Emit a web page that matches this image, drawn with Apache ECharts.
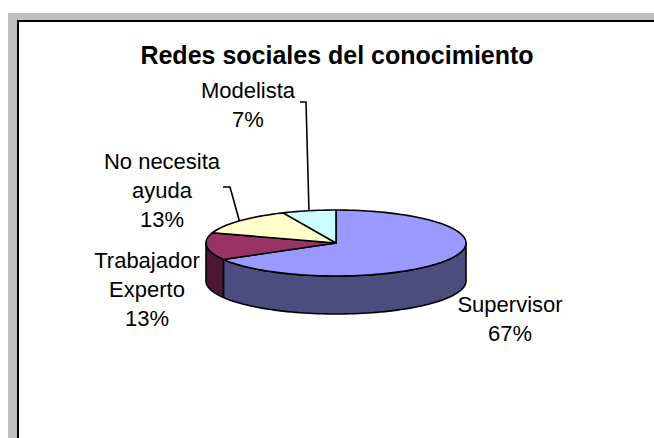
<!DOCTYPE html>
<html><head><meta charset="utf-8">
<script src="https://cdn.jsdelivr.net/npm/echarts@6/dist/echarts.min.js"></script>
<style>html,body{margin:0;padding:0;background:#fff;overflow:hidden}#c{width:654px;height:438px}</style>
</head><body><div id="c"></div>
<script>
// ---- data ----
const chartTitle = 'Redes sociales del conocimiento';
const categories = ['Supervisor', 'Trabajador\nExperto', 'No necesita\nayuda', 'Modelista'];
const counts = [10, 2, 2, 1];

// ---- styles / layout ----
const topColors = ['#9999FF', '#993366', '#FFFFCC', '#CCFFFF'];
const sideColors = ['#4C4C7F', '#4C1933', '#808066', '#668080'];
const PIE = { cx: 336, cy: 243, rx: 130, ry: 33, depth: 38 };
// label block centres, and optional leader-line start/elbow offsets relative to the centre
const LABEL_LAYOUT = [
  { x: 510, y: 319, line: null },
  { x: 147, y: 289, line: null },
  { x: 162, y: 190, line: [[61, -3], [68, -3]] },
  { x: 248, y: 105, line: [[52, -3], [58, -3]] }
];
const FONT = "'Liberation Sans', Arial, sans-serif";

const total = counts.reduce((a, b) => a + b, 0);
const starts = [];
(function () { let acc = 0; counts.forEach(v => { starts.push(acc); acc += v; }); })();

function pt(theta, dy) {
  return [PIE.cx + PIE.rx * Math.sin(theta), PIE.cy - PIE.ry * Math.cos(theta) + (dy || 0)];
}
function arc(a1, a2, dy) {
  const n = Math.max(2, Math.ceil((a2 - a1) / (Math.PI / 90)));
  const out = [];
  for (let k = 0; k <= n; k++) out.push(pt(a1 + (a2 - a1) * k / n, dy));
  return out;
}

function renderItem(params, api) {
  const i = params.dataIndex;
  const v = api.value(1);
  const a1 = starts[i] / total * Math.PI * 2;
  const a2 = a1 + v / total * Math.PI * 2;
  const children = [];
  // visible front wall
  const w1 = Math.max(a1, Math.PI / 2), w2 = Math.min(a2, Math.PI * 3 / 2);
  if (w2 > w1) {
    const topPts = arc(w1, w2, 0);
    const botPts = arc(w1, w2, PIE.depth).reverse();
    children.push({
      type: 'polygon', z2: 1,
      shape: { points: topPts.concat(botPts) },
      style: { fill: sideColors[i], stroke: '#000', lineWidth: 1.6, lineJoin: 'round' }
    });
  }
  // top face
  children.push({
    type: 'polygon', z2: 5,
    shape: { points: [[PIE.cx, PIE.cy]].concat(arc(a1, a2, 0)) },
    style: { fill: topColors[i], stroke: '#000', lineWidth: 1.6, lineJoin: 'round' }
  });
  // label
  const L = LABEL_LAYOUT[i];
  const pct = Math.round(v / total * 100) + '%';
  children.push({
    type: 'text', z2: 10,
    style: {
      text: categories[i] + '\n' + pct, x: L.x, y: L.y,
      align: 'center', verticalAlign: 'middle',
      fontSize: 22, lineHeight: 29, fontFamily: FONT, fill: '#000'
    }
  });
  if (L.line) {
    const mid = (a1 + a2) / 2;
    children.push({
      type: 'polyline', z2: 10,
      shape: { points: [[L.x + L.line[0][0], L.y + L.line[0][1]], [L.x + L.line[1][0], L.y + L.line[1][1]], pt(mid, 0)] },
      style: { stroke: '#000', lineWidth: 1.6, fill: null }
    });
  }
  return { type: 'group', children: children };
}

const chart = echarts.init(document.getElementById('c'), null, { renderer: 'svg' });
chart.setOption({
  animation: false,
  backgroundColor: '#fff',
  title: {
    text: chartTitle, left: 337, top: 40, textAlign: 'center', padding: 0,
    textStyle: { fontFamily: FONT, fontSize: 25, fontWeight: 'bold', color: '#000', lineHeight: 30 }
  },
  graphic: [
    { type: 'rect', z: 0, shape: { x: 8, y: 13, width: 700, height: 500 }, style: { fill: '#C0C0C0' } },
    { type: 'rect', z: 0, shape: { x: 18, y: 21, width: 700, height: 500 }, style: { fill: '#fff', stroke: '#000', lineWidth: 2 } }
  ],
  series: [{
    type: 'custom', coordinateSystem: 'none', z: 3,
    data: counts.map((v, i) => [i, v]),
    renderItem: renderItem
  }]
});
</script>
</body></html>
